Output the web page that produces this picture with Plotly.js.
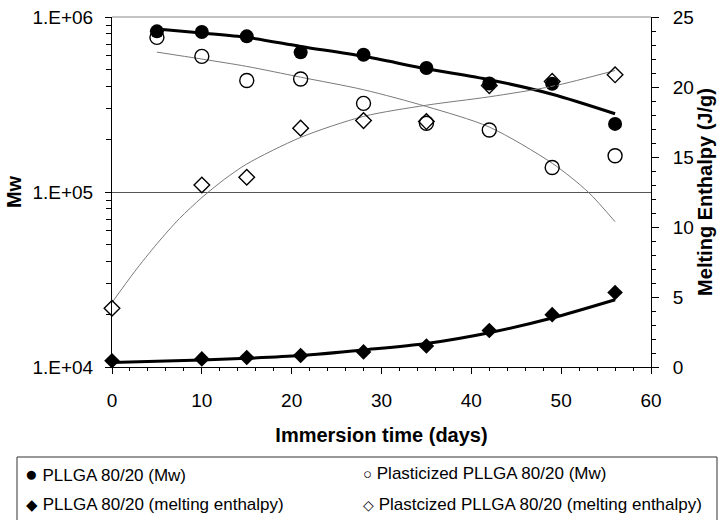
<!DOCTYPE html>
<html>
<head>
<meta charset="utf-8">
<script src="https://cdn.plot.ly/plotly-3.0.1.min.js"></script>
<style>html,body{margin:0;padding:0;background:#fff;}#chart{width:721px;height:520px;}</style>
</head>
<body>
<div id="chart"></div>
<script>
// ---- data ----
const mwDays = [5, 10, 15, 21, 28, 35, 42, 49, 56];
const pllgaMw = [8.28e5, 8.21e5, 7.75e5, 6.28e5, 6.09e5, 5.11e5, 4.17e5, 4.15e5, 2.45e5];
const plastMw = [7.65e5, 5.96e5, 4.34e5, 4.42e5, 3.21e5, 2.47e5, 2.26e5, 1.38e5, 1.61e5];

const hDays = [0, 10, 15, 21, 28, 35, 42, 49, 56];
const pllgaH = [0.45, 0.58, 0.68, 0.82, 1.08, 1.5, 2.61, 3.74, 5.32];
const plastH = [4.2, 13.0, 13.55, 17.06, 17.6, 17.53, 20.1, 20.4, 20.87];

// trend lines
const pllgaMwFitDays = [5, 10, 15, 21, 28, 35, 42, 49, 56];
const pllgaMwFit = [8.54e5, 8.10e5, 7.65e5, 6.79e5, 5.96e5, 5.06e5, 4.38e5, 3.62e5, 2.80e5];
const plastMwFitDays = [5, 10, 15, 21, 28, 35, 42, 49, 53, 56];
const plastMwFit = [6.30e5, 5.75e5, 5.22e5, 4.53e5, 3.84e5, 3.08e5, 2.35e5, 1.46e5, 1.0e5, 6.76e4];
const pllgaHFitDays = [0, 10, 15, 21, 28, 35, 42, 49, 56];
const pllgaHFit = [0.33, 0.5, 0.62, 0.82, 1.22, 1.68, 2.45, 3.5, 4.8];
const plastHFitDays = [0, 2.5, 5, 7.5, 10, 12.5, 15, 21, 28, 35, 42, 49, 56];
const plastHFit = [4.6, 6.8, 8.8, 10.6, 12.1, 13.4, 14.5, 16.4, 17.9, 18.7, 19.3, 20.05, 21.18];

// tick labels
const mwTickVals = [1e4, 1e5, 1e6];
const mwTickText = ['1.E+04', '1.E+05', '1.E+06'];
const mwMinorVals = [2e4, 3e4, 4e4, 5e4, 6e4, 7e4, 8e4, 9e4, 2e5, 3e5, 4e5, 5e5, 6e5, 7e5, 8e5, 9e5];

const legendNames = ['PLLGA 80/20 (Mw)', 'Plasticized PLLGA 80/20 (Mw)',
  'PLLGA 80/20 (melting enthalpy)', 'Plastcized PLLGA 80/20 (melting enthalpy)'];

const FONT = 'Arial, "Liberation Sans", sans-serif';

const traces = [
  {x: pllgaMwFitDays, y: pllgaMwFit, yaxis: 'y', mode: 'lines', showlegend: false, hoverinfo: 'skip',
   line: {color: '#000', width: 3, shape: 'spline', smoothing: 0.8}},
  {x: plastMwFitDays, y: plastMwFit, yaxis: 'y', mode: 'lines', showlegend: false, hoverinfo: 'skip',
   line: {color: '#7a7a7a', width: 1, shape: 'spline', smoothing: 0.8}},
  {x: mwDays, y: pllgaMw, yaxis: 'y', mode: 'markers', name: legendNames[0], showlegend: false, cliponaxis: false,
   marker: {symbol: 'circle', size: 14, color: '#000'}},
  {x: mwDays, y: plastMw, yaxis: 'y', mode: 'markers', name: legendNames[1], showlegend: false, cliponaxis: false,
   marker: {symbol: 'circle-open', size: 14, color: '#000', line: {width: 1.4}}},
  {x: pllgaHFitDays, y: pllgaHFit, yaxis: 'y2', mode: 'lines', showlegend: false, hoverinfo: 'skip',
   line: {color: '#000', width: 3, shape: 'spline', smoothing: 0.8}},
  {x: plastHFitDays, y: plastHFit, yaxis: 'y2', mode: 'lines', showlegend: false, hoverinfo: 'skip',
   line: {color: '#7a7a7a', width: 1, shape: 'spline', smoothing: 0.8}},
  {x: hDays, y: pllgaH, yaxis: 'y2', mode: 'markers', name: legendNames[2], showlegend: false, cliponaxis: false,
   marker: {symbol: 'diamond', size: 12, color: '#000'}},
  {x: hDays, y: plastH, yaxis: 'y2', mode: 'markers', name: legendNames[3], showlegend: false, cliponaxis: false,
   marker: {symbol: 'diamond-open', size: 12, color: '#000', line: {width: 1.4}}}
];

// paper-coordinate helpers for the legend box under the plot
const plotL = 112, plotR = 651, plotT = 17, plotB = 367;
const px = v => (v - plotL) / (plotR - plotL);
const py = v => (plotB - v) / (plotB - plotT);

const symbols = ['●', '○', '◆', '◇'];
const symbolSizes = [21, 15, 15, 14];
const legPos = [[23, 473], [361, 473], [24, 504], [361, 504]];
const annotations = legendNames.map((n, i) => ({
  xref: 'paper', yref: 'paper', x: px(legPos[i][0]), y: py(legPos[i][1]),
  xanchor: 'left', yanchor: 'middle', showarrow: false,
  text: '<span style="font-size:' + symbolSizes[i] + 'px">' + symbols[i] + '</span> ' + n,
  font: {family: FONT, size: 17, color: '#000'}
}));

const layout = {
  width: 721, height: 520,
  margin: {l: plotL, r: 721 - plotR, t: plotT, b: 520 - plotB, pad: 0},
  paper_bgcolor: '#fff', plot_bgcolor: '#fff',
  font: {family: FONT, size: 19, color: '#000'},
  showlegend: false,
  xaxis: {
    range: [0, 60], dtick: 10, tick0: 0, showgrid: false, zeroline: false,
    showline: true, linecolor: '#000', linewidth: 1, mirror: false,
    ticks: 'outside', ticklen: 6, tickcolor: '#000', ticklabelstandoff: 10,
    minor: {dtick: 2, ticks: 'outside', ticklen: 3, tickcolor: '#000', showgrid: false},
    title: {text: '<b>Immersion time (days)</b>', font: {family: FONT, size: 20}, standoff: 18}
  },
  yaxis: {
    type: 'log', range: [4, 6], tickmode: 'array', tickvals: mwTickVals, ticktext: mwTickText,
    showgrid: true, gridcolor: '#555', gridwidth: 1, zeroline: false,
    showline: true, linecolor: '#000', linewidth: 1,
    ticks: 'outside', ticklen: 6, tickcolor: '#000', ticklabelstandoff: 8,
    minor: {tickmode: 'array', tickvals: mwMinorVals, ticks: 'outside', ticklen: 5, tickcolor: '#000', showgrid: false},
    title: {text: '<b>Mw</b>', font: {family: FONT, size: 20}, standoff: 5}
  },
  yaxis2: {
    overlaying: 'y', side: 'right', range: [0, 25], dtick: 5, tick0: 0,
    showgrid: false, zeroline: false, showline: true, linecolor: '#000', linewidth: 1,
    ticks: 'outside', ticklen: 7, tickcolor: '#000', ticklabelstandoff: 10,
    minor: {dtick: 1, ticks: 'outside', ticklen: 4, tickcolor: '#000', showgrid: false},
    title: {text: '<b>Melting Enthalpy (J/g)</b>', font: {family: FONT, size: 20}, standoff: 2}
  },
  shapes: [
    {type: 'line', xref: 'paper', yref: 'paper', x0: 0, x1: 1, y0: 1, y1: 1, line: {color: '#888', width: 1}},
    {type: 'rect', xref: 'paper', yref: 'paper', x0: px(17), x1: px(717), y0: py(545), y1: py(457),
     line: {color: '#333', width: 1}, fillcolor: 'rgba(0,0,0,0)'}
  ],
  annotations: annotations
};

Plotly.newPlot('chart', traces, layout, {displayModeBar: false, staticPlot: true});
</script>
</body>
</html>
